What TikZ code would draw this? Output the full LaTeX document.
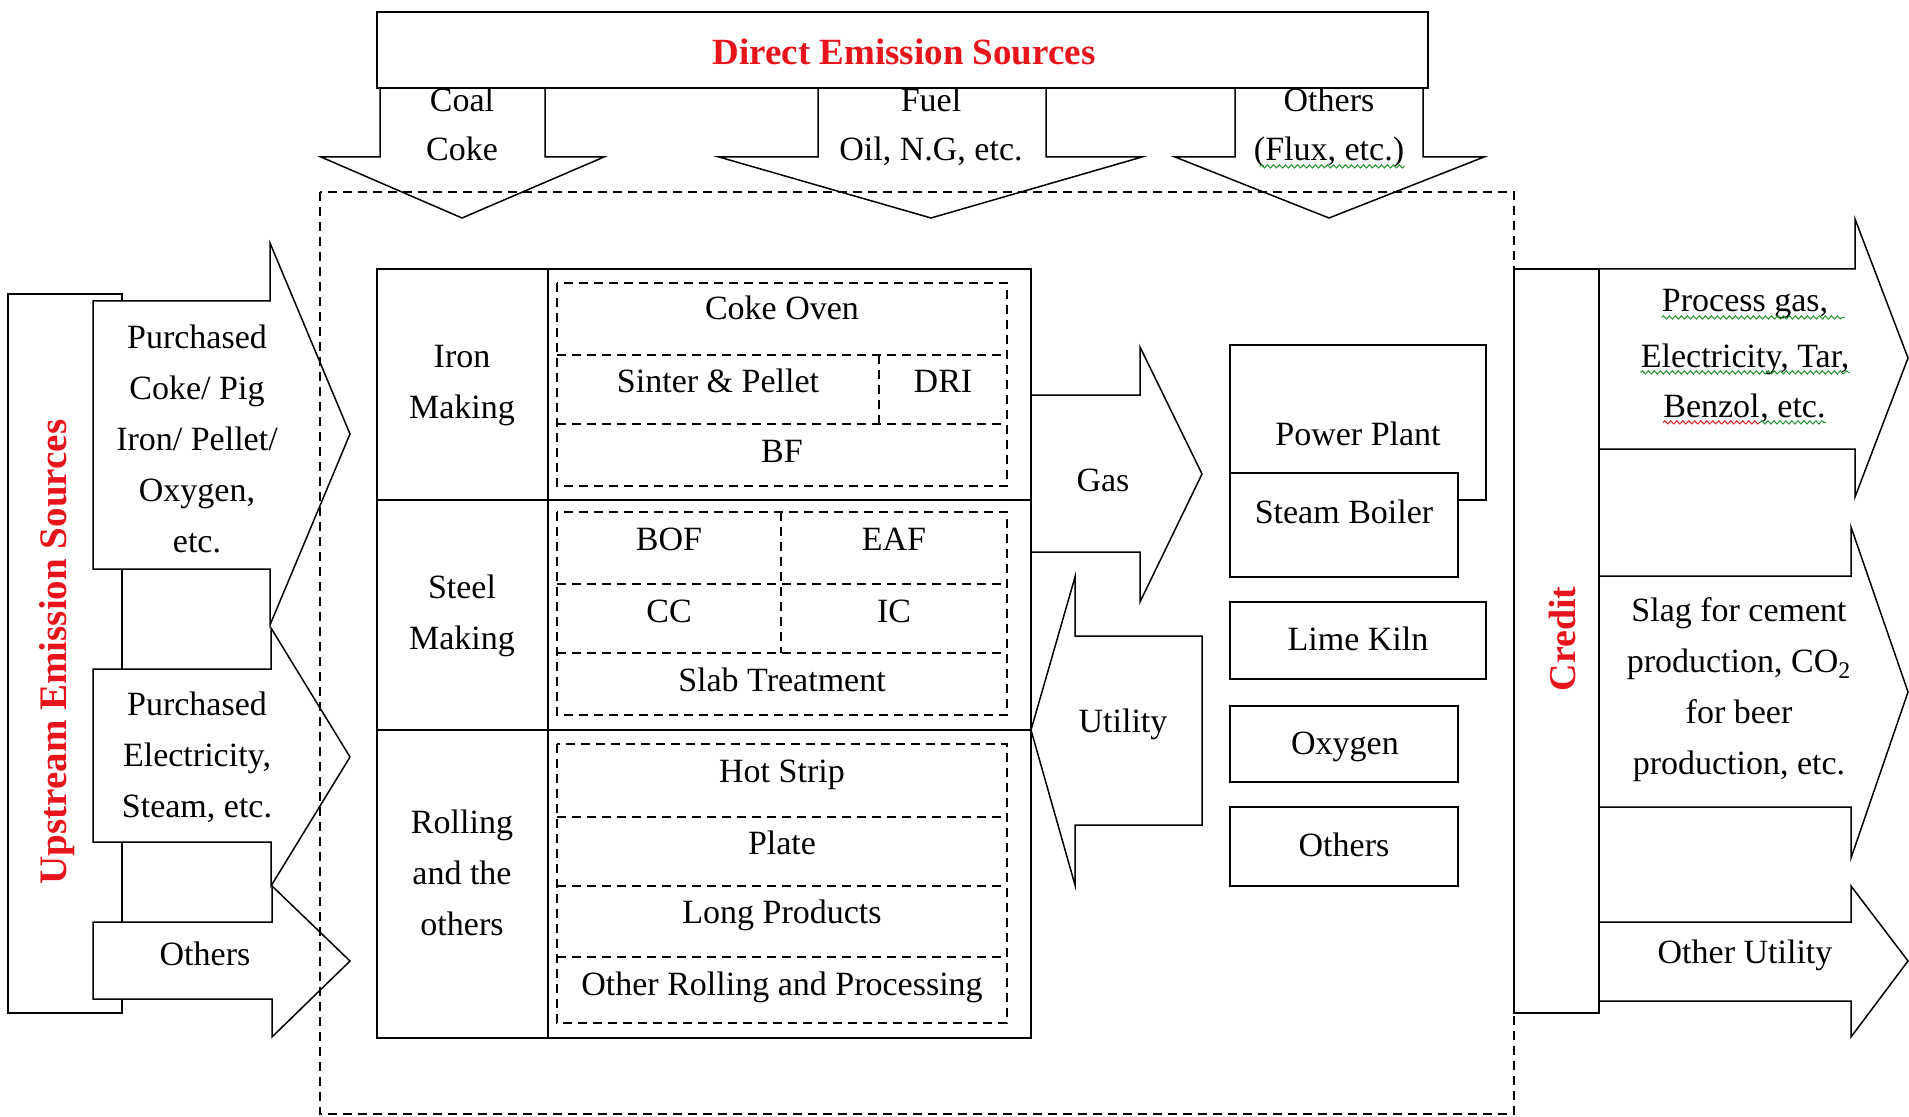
\documentclass[tikz,border=0pt]{standalone}
\usepackage{fontspec}
\setmainfont{Liberation Serif}
\usetikzlibrary{decorations.pathmorphing}
\definecolor{srcred}{RGB}{232,20,28}
\definecolor{spellgreen}{RGB}{30,150,40}
\definecolor{spellred}{RGB}{225,30,30}
\begin{document}
\begin{tikzpicture}[x=0.5pt,y=-0.5pt,
        box/.style={draw,line width=0.9pt},
        blk/.style={draw,line width=0.75pt},
        sub/.style={draw,line width=0.7pt,dash pattern=on 4.5pt off 3pt},
        lbl/.style={inner sep=0pt,font=\fontsize{17}{25.5}\selectfont},
        one/.style={lbl,text height=11pt,text depth=1pt},
        many/.style={lbl,align=center},
        title/.style={inner sep=0pt,text=srcred,font=\fontsize{19}{22}\selectfont\bfseries},
        squiggle/.style={draw=#1,line width=0.5pt,decorate,
            decoration={snake,segment length=3pt,amplitude=0.8pt}}]
\useasboundingbox (0,0) rectangle (1909,1117);

% direct emission sources
\draw[box] (377,12) rectangle (1428,88);
\node[title,font=\fontsize{18.5}{22}\selectfont\bfseries] (direct) at (904,52) {Direct Emission Sources};
\draw[blk] (380,88) -- (380,157) -- (321,157) -- (462,218) -- (604,157) -- (545,157) -- (545,88);
\draw[blk] (818,88) -- (818,157) -- (719,157) -- (931,218) -- (1142,157) -- (1046,157) -- (1046,88);
\draw[blk] (1235,88) -- (1235,157) -- (1175,157) -- (1329,218) -- (1484,157) -- (1423,157) -- (1423,88);
\node[one] (coal) at (462,102) {Coal};
\node[one] (coke) at (462,151) {Coke};
\node[one] (fuel) at (931,102) {Fuel};
\node[one] (oilng) at (931,151) {Oil, N.G, etc.};
\node[one] (othtop) at (1329,102) {Others};
\node[one] (flux) at (1329,151) {(Flux, etc.)};
\draw[squiggle=spellgreen] ([xshift=3pt,yshift=-1.5pt]flux.south west) -- ([yshift=-1.5pt]flux.south east);

% upstream
\draw[box] (8,294) rectangle (122,1013);
\node[title,rotate=90,font=\fontsize{19.5}{22}\selectfont\bfseries] (upstream) at (57,652) {Upstream Emission Sources};
\draw[blk,fill=white] (93,301) -- (270,301) -- (270,243) -- (350,434) -- (270,625) -- (270,569) -- (93,569) -- cycle;
\draw[blk,fill=white] (93,669) -- (271,669) -- (271,628) -- (350,757) -- (271,886) -- (271,842) -- (93,842) -- cycle;
\draw[blk,fill=white] (93,922) -- (272,922) -- (272,886) -- (350,961) -- (272,1037) -- (272,999) -- (93,999) -- cycle;
\node[many] (buycoke) at (197,439) {Purchased\\Coke/ Pig\\Iron/ Pellet/\\Oxygen,\\etc.};
\node[many] (buyelec) at (197,757) {Purchased\\Electricity,\\Steam, etc.};
\node[one] (othleft) at (205,955) {Others};

% process table
\draw[box] (377,269) rectangle (1031,1038);
\draw[box] (548,269) -- (548,1038);
\draw[box] (377,500) -- (1031,500);
\draw[box] (377,730) -- (1031,730);
\node[many] (iron) at (462,386) {Iron\\Making};
\node[many] (steel) at (462,616) {Steel\\Making};
\node[many] (rolling) at (462,873) {Rolling\\and the\\others};

\draw[sub] (557,283) rectangle (1007,486);
\draw[sub] (557,355) -- (1007,355) (557,424) -- (1007,424) (879,355) -- (879,424);
\node[one] (cokeoven) at (782,310) {Coke Oven};
\node[one] (sinter) at (718,382) {Sinter \& Pellet};
\node[one] (dri) at (943,382) {DRI};
\node[one] (bf) at (782,452) {BF};

\draw[sub] (557,512) rectangle (1007,715);
\draw[sub] (557,584) -- (1007,584) (557,653) -- (1007,653) (781,512) -- (781,653);
\node[one] (bof) at (669,540) {BOF};
\node[one] (eaf) at (894,540) {EAF};
\node[one] (cc) at (669,612) {CC};
\node[one] (ic) at (894,612) {IC};
\node[one] (slab) at (782,681) {Slab Treatment};

\draw[sub] (557,744) rectangle (1007,1023);
\draw[sub] (557,817) -- (1007,817) (557,886) -- (1007,886) (557,957) -- (1007,957);
\node[one] (hotstrip) at (782,772) {Hot Strip};
\node[one] (plate) at (782,844) {Plate};
\node[one] (longprod) at (782,913) {Long Products};
\node[one] (otherroll) at (782,985) {Other Rolling and Processing};

% gas and utility
\draw[blk] (1031,395) -- (1140,395) -- (1140,347) -- (1202,474) -- (1140,602) -- (1140,552) -- (1031,552);
\draw[blk] (1031,730) -- (1075,577) -- (1075,636) -- (1202,636) -- (1202,825) -- (1075,825) -- (1075,885) -- cycle;
\node[one] (gas) at (1103,481) {Gas};
\node[one] (utility) at (1123,722) {Utility};

% on-site plants
\draw[box] (1230,345) rectangle (1486,500);
\draw[box,fill=white] (1230,473) rectangle (1458,577);
\node[one] (power) at (1358,435) {Power Plant};
\node[one] (boiler) at (1344,513) {Steam Boiler};
\draw[box] (1230,602) rectangle (1486,679);
\node[one] (kiln) at (1358,640) {Lime Kiln};
\draw[box] (1230,706) rectangle (1458,782);
\node[one] (oxygen) at (1345,744) {Oxygen};
\draw[box] (1230,807) rectangle (1458,886);
\node[one] (othbox) at (1344,846) {Others};

% credit
\draw[box] (1514,269) rectangle (1599,1013);
\node[title,rotate=90] (credit) at (1562,639) {Credit};
\draw[blk] (1599,269) -- (1855,269) -- (1855,219) -- (1908,358) -- (1855,497) -- (1855,449) -- (1599,449);
\draw[blk] (1599,576) -- (1851,576) -- (1851,527) -- (1908,692) -- (1851,858) -- (1851,807) -- (1599,807);
\draw[blk] (1599,922) -- (1851,922) -- (1851,886) -- (1908,961) -- (1851,1037) -- (1851,1001) -- (1599,1001);
\node[one] (pgas) at (1745,302) {Process gas,};
\node[one] (pelec) at (1745,357) {Electricity, Tar,};
\node[one,anchor=east] (pbenzol) at (1760,407) {Benzol};
\node[one,anchor=west] (petc) at (pbenzol.east) {, etc.};
\draw[squiggle=spellgreen] ([yshift=-1.5pt]pgas.south west) -- ([xshift=8pt,yshift=-1.5pt]pgas.south east);
\draw[squiggle=spellgreen] ([yshift=-1.5pt]pelec.south west) -- ([yshift=-1.5pt]pelec.south east);
\draw[squiggle=spellred] ([yshift=-1.5pt]pbenzol.south west) -- ([yshift=-1.5pt]pbenzol.south east);
\draw[squiggle=spellgreen] ([yshift=-1.5pt]petc.south west) -- ([yshift=-1.5pt]petc.south east);
\node[many] (slag) at (1739,690) {Slag for cement\\production, CO\textsubscript{2}\\for beer\\production, etc.};
\node[one] (othutil) at (1745,953) {Other Utility};

% system boundary
\draw[sub,line width=0.75pt] (320,192) rectangle (1514,1114);
\end{tikzpicture}
\end{document}
